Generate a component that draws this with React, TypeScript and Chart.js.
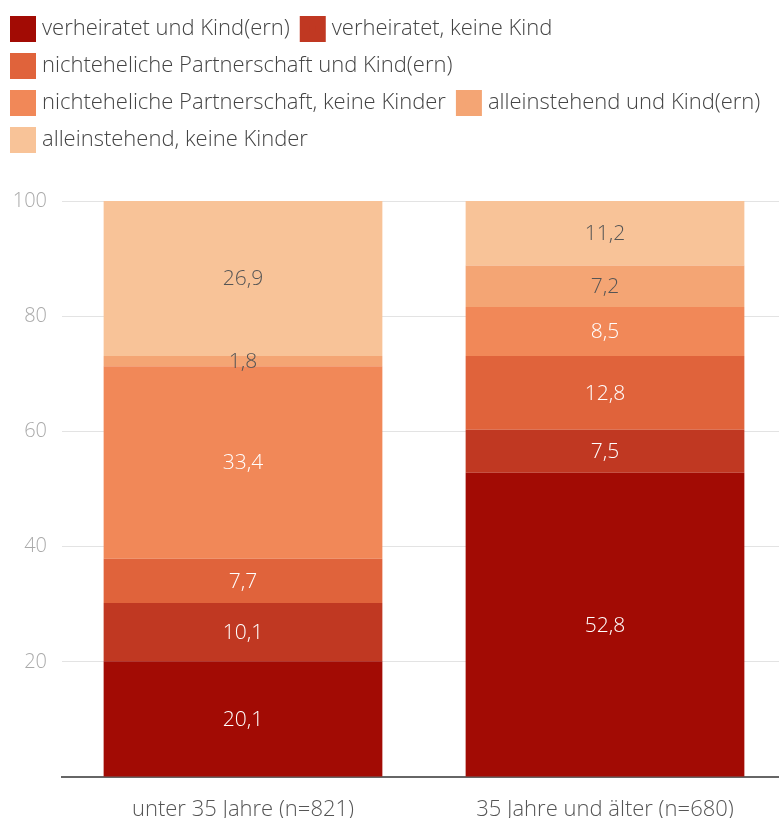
import React, { useEffect, useRef } from "react";
import { Chart, registerables } from "chart.js";

Chart.register(...registerables);

const categories = ["unter 35 Jahre (n=821)", "35 Jahre und älter (n=680)"];
const seriesNames = [
  "verheiratet und Kind(ern)",
  "verheiratet, keine Kind",
  "nichteheliche Partnerschaft und Kind(ern)",
  "nichteheliche Partnerschaft, keine Kinder",
  "alleinstehend und Kind(ern)",
  "alleinstehend, keine Kinder",
];
const verheiratetKind = [20.1, 52.8];
const verheiratetKeine = [10.1, 7.5];
const partnerKind = [7.7, 12.8];
const partnerKeine = [33.4, 8.5];
const alleinKind = [1.8, 7.2];
const alleinKeine = [26.9, 11.2];
const seriesValues = [verheiratetKind, verheiratetKeine, partnerKind, partnerKeine, alleinKind, alleinKeine];
const seriesColors = ["#a20b04", "#c03822", "#e0633b", "#f18858", "#f4a574", "#f8c398"];
const labelColors = ["#ffffff", "#ffffff", "#ffffff", "#ffffff", "#555555", "#555555"];
const yTicks = [0, 20, 40, 60, 80, 100];

const FONT = "'Open Sans', 'Noto Sans', sans-serif";

const valueLabels = {
  id: "valueLabels",
  afterDatasetsDraw(chart: any) {
    const ctx = chart.ctx;
    ctx.save();
    ctx.font = `300 21px ${FONT}`;
    ctx.textAlign = "center";
    ctx.textBaseline = "middle";
    chart.data.datasets.forEach((ds: any, di: number) => {
      const meta = chart.getDatasetMeta(di);
      meta.data.forEach((el: any, i: number) => {
        const v = ds.data[i];
        ctx.fillStyle = labelColors[di];
        ctx.fillText(v.toFixed(1).replace(".", ","), el.x, (el.y + el.base) / 2 + 1);
      });
    });
    ctx.restore();
  },
};

const legendMargin = {
  id: "legendMargin",
  beforeInit(chart: any) {
    const orig = chart.legend.fit;
    chart.legend.fit = function () {
      orig.bind(chart.legend)();
      this.height += 40;
    };
  },
};

export default function App() {
  const ref = useRef<HTMLCanvasElement | null>(null);
  useEffect(() => {
    document.body.style.margin = "0";
    document.body.style.overflow = "hidden";
    const chart = new Chart(ref.current as HTMLCanvasElement, {
      type: "bar",
      data: {
        labels: categories,
        datasets: seriesNames.map((name, i) => ({
          label: name,
          data: seriesValues[i],
          backgroundColor: seriesColors[i],
          borderWidth: 0,
          barPercentage: 0.77,
          categoryPercentage: 1,
        })),
      },
      options: {
        animation: false,
        responsive: true,
        maintainAspectRatio: false,
        layout: { padding: { top: 3, left: 0, right: 0, bottom: 0 } },
        plugins: {
          tooltip: { enabled: false },
          legend: {
            position: "top",
            align: "start",
            labels: {
              boxWidth: 16,
              boxHeight: 16,
              padding: 15,
              color: "#444",
              font: { family: FONT, size: 22, weight: "300" },
              generateLabels(chart: any) {
                const items = Chart.defaults.plugins.legend.labels.generateLabels(chart);
                return items.map((it: any, i: number) => ({
                  ...it,
                  fillStyle: seriesColors[i],
                  strokeStyle: seriesColors[i],
                  lineWidth: 10,
                }));
              },
            },
          },
        },
        scales: {
          x: {
            stacked: true,
            afterFit(scale: any) {
              scale.height = 41;
            },
            grid: { display: false, drawTicks: false },
            border: { display: true, color: "#666", width: 2 },
            ticks: { color: "#555", padding: 20, font: { family: FONT, size: 22, weight: "300" } },
          },
          y: {
            stacked: true,
            min: 0,
            max: 100,
            afterFit(scale: any) {
              scale.width = 62;
            },
            afterBuildTicks(scale: any) {
              scale.ticks = yTicks.map((v) => ({ value: v }));
            },
            grid: {
              color: (c: any) => (c.tick && c.tick.value === 0 ? "rgba(0,0,0,0)" : "#e3e3e3"),
              drawTicks: false,
              lineWidth: 1,
            },
            border: { display: false },
            ticks: {
              padding: 15,
              color: "#aaaaaa",
              font: { family: FONT, size: 20, weight: "300" },
              callback: (v: any) => (v === 0 ? "" : String(v)),
            },
          },
        },
      },
      plugins: [valueLabels, legendMargin],
    });
    return () => chart.destroy();
  }, []);
  return (
    <div style={{ width: 786, height: 818, position: "relative" }}>
      <canvas ref={ref} />
    </div>
  );
}
